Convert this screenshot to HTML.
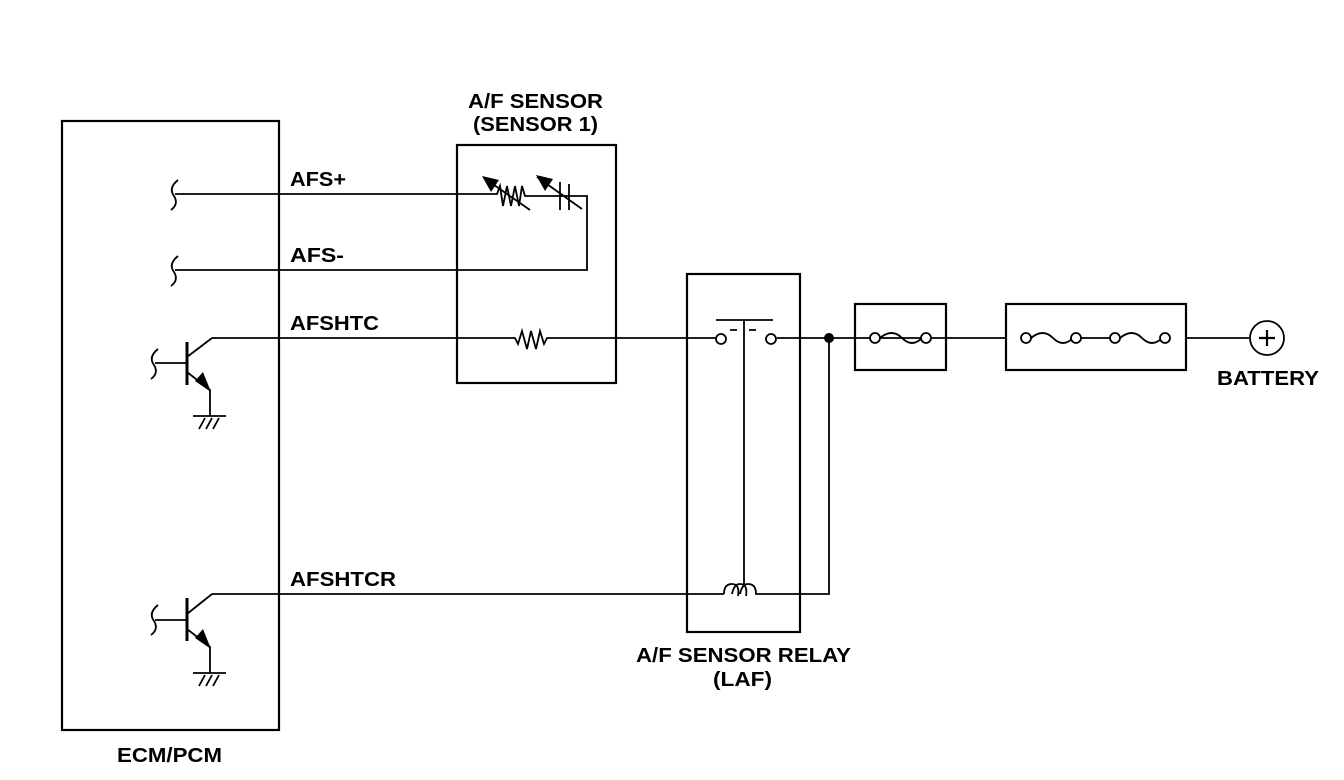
<!DOCTYPE html>
<html><head><style>body{margin:0;background:#fff}svg{display:block}text{font-family:"Liberation Sans",Arial,sans-serif;font-weight:bold;font-size:20px;fill:#000}</style></head>
<body>
<svg width="1344" height="780" viewBox="0 0 1344 780" xmlns="http://www.w3.org/2000/svg">
<g fill="none" stroke="#000" stroke-width="2.2">
<rect x="62" y="121" width="217" height="609"/>
<rect x="457" y="145" width="159" height="238"/>
<rect x="687" y="274" width="113" height="358"/>
<rect x="855" y="304" width="91" height="66"/>
<rect x="1006" y="304" width="180" height="66"/>
</g>
<g fill="none" stroke="#000" stroke-width="1.8">
<path d="M178,180 Q168,188 174,196 Q179,204 171,210"/>
<path d="M178,256 Q168,264 174,272 Q179,280 171,286"/>
<path d="M158,349 Q148,357 154,365 Q159,373 151,379"/>
<path d="M158,605 Q148,613 154,621 Q159,629 151,635"/>
<path d="M175,194 H497 L500,186 L503,206 L507,186 L511,206 L515,186 L519,206 L522,186 L525,196 H587 V270 H175"/>
<path d="M484,178 L530,210"/>
<path d="M560,182 V210 M569,184 V210"/>
<path d="M537,177 L582,209"/>
<path d="M212,338 H515 L518,344 L522,331 L527,349 L531,331 L536,349 L540,331 L544,344 L547,338 H718"/>
<path d="M155,363 H187 M187,357 L212,338 M187,372 L210,390 V416"/>
<path d="M155,620 H187 M187,614 L212,594 M187,629 L210,647 V673"/>
<path d="M193,416 H226 M199,429 L205,418 M206,429 L212,418 M213,429 L219,418"/>
<path d="M193,673 H226 M199,686 L205,675 M206,686 L212,675 M213,686 L219,675"/>
<path d="M212,594 H724 M764,594 H829 V338"/>
<path d="M716,320 H773 M744,320 V585 M730,330 H737 M749,330 H756"/>
<path d="M777,338 H1006 M1186,338 H1249"/>
<path d="M724,594 q0,-10 8,-10 q8,0 6,12 M732,594 q2,-10 8,-10 q8,0 6,12 M740,594 q2,-10 8,-10 q8,0 8,10 H764"/>
<path d="M880,338 q12,-10 22,0 q10,10 20,0 M1031,338 q12,-10 22,0 q10,10 20,0 M1120,338 q12,-10 22,0 q10,10 20,0 M1081,338 H1110"/>
</g>
<path d="M187,342 V385 M187,598 V641" stroke="#000" stroke-width="3"/>
<g fill="#fff" stroke="#000" stroke-width="1.8">
<circle cx="721" cy="339" r="5"/><circle cx="771" cy="339" r="5"/>
<circle cx="875" cy="338" r="5"/><circle cx="926" cy="338" r="5"/>
<circle cx="1026" cy="338" r="5"/><circle cx="1076" cy="338" r="5"/>
<circle cx="1115" cy="338" r="5"/><circle cx="1165" cy="338" r="5"/>
<circle cx="1267" cy="338" r="17"/>
</g>
<path d="M1259,338 H1275 M1267,330 V346" stroke="#000" stroke-width="2.2"/>
<circle cx="829" cy="338" r="5" fill="#000"/>
<g fill="#000">
<path d="M482,176 L499,180 L491,192z"/>
<path d="M536,175 L553,179 L545,191z"/>
<path d="M211,392 L195,381 L203,372z"/>
<path d="M211,649 L195,638 L203,629z"/>
</g>
<text x="468" y="108" textLength="135" lengthAdjust="spacingAndGlyphs">A/F SENSOR</text>
<text x="473" y="131" textLength="125" lengthAdjust="spacingAndGlyphs">(SENSOR 1)</text>
<text x="290" y="186" textLength="56" lengthAdjust="spacingAndGlyphs">AFS+</text>
<text x="290" y="262" textLength="54" lengthAdjust="spacingAndGlyphs">AFS-</text>
<text x="290" y="330" textLength="89" lengthAdjust="spacingAndGlyphs">AFSHTC</text>
<text x="290" y="586" textLength="106" lengthAdjust="spacingAndGlyphs">AFSHTCR</text>
<text x="636" y="662" textLength="215" lengthAdjust="spacingAndGlyphs">A/F SENSOR RELAY</text>
<text x="713" y="686" textLength="59" lengthAdjust="spacingAndGlyphs">(LAF)</text>
<text x="1217" y="385" textLength="102" lengthAdjust="spacingAndGlyphs">BATTERY</text>
<text x="117" y="762" textLength="105" lengthAdjust="spacingAndGlyphs">ECM/PCM</text>
</svg>
</body></html>
